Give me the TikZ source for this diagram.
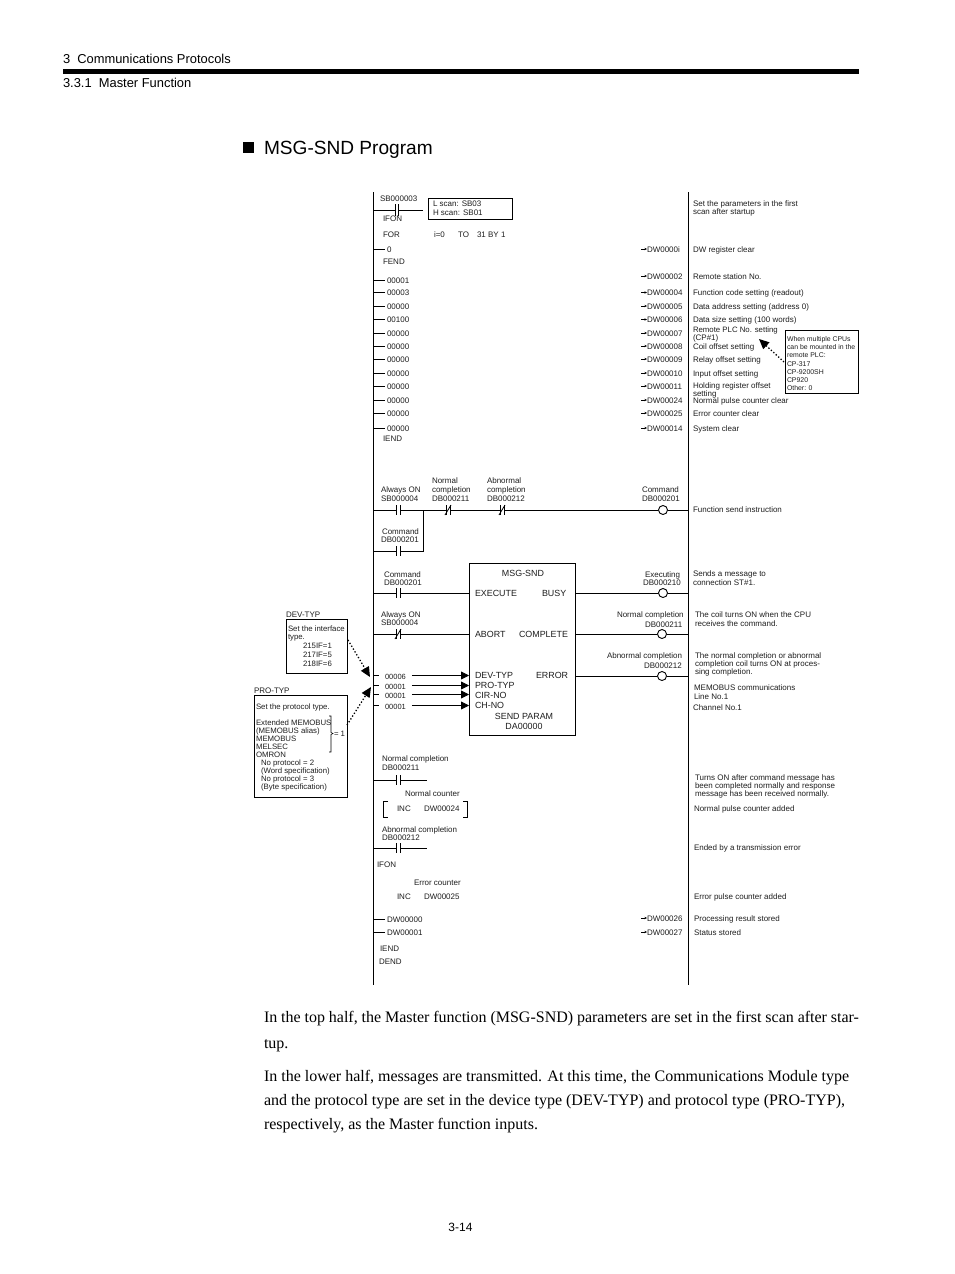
\documentclass[tikz,border=0pt]{standalone}
\usepackage{fontspec}
\setmainfont{Liberation Sans}
\newfontfamily\serifbody{Liberation Serif}
\usetikzlibrary{arrows.meta,calc}
\newcounter{nn}
\tikzset{
  base/.style={inner sep=0pt,outer sep=0pt,text=black!88},
  lab/.style={base,anchor=west,font=\fontsize{8}{8}\selectfont,text height=9.3pt,text depth=1.2pt},
  labc/.style={lab,anchor=center},
  num/.style={lab,font=\fontsize{7.5}{8}\selectfont},
  boxt/.style={lab,font=\fontsize{8.9}{9}\selectfont},
  boxc/.style={boxt,anchor=center},
  note/.style={lab,font=\fontsize{6.9}{8}\selectfont},
  pro/.style={lab,font=\fontsize{7.8}{8}\selectfont},
  head/.style={base,anchor=west,text=black,font=\fontsize{12.9}{13}\selectfont},
  body/.style={base,anchor=base west,text=black,font=\serifbody\fontsize{16}{16}\selectfont},
  rail/.style={line width=.9pt,black},
  wire/.style={line width=.8pt,black},
  ct/.style={rectangle,inner sep=0pt,outer sep=0pt,minimum width=4pt,minimum height=10pt},
  coil/.style={circle,draw,line width=.9pt,fill=white,inner sep=0pt,minimum size=9pt},
  frame/.style={line width=.8pt,black},
  pin/.style={wire,-{Triangle[length=8pt,width=8pt]}},
  dots/.style={line width=1.3pt,dotted,-{Triangle[length=10pt,width=9pt]}},
  tiny/.style={line width=.4pt,-{Stealth[length=2.6pt,width=2.4pt]}}
}
\newcommand\Lb[4][lab]{\stepcounter{nn}\node[#1] (n\thenn) at (#2,#3) {#4};}
\newcommand\St[3]{\Lb{387}{#2}{#3}\draw[wire] ([yshift=-1pt]railT |- n\thenn.west) -- +(11.5,0);}
\newcommand\DW[2]{\Lb{647}{#1}{#2}\draw[tiny] ([xshift=-6pt,yshift=-1pt]n\thenn.west) -- ([yshift=-1pt]n\thenn.west);}
\newcommand\Bars[1]{\draw[line width=.9pt] (#1.north west)--(#1.south west) (#1.north east)--(#1.south east);}
\newcommand\NO[3]{\node[ct] (#1) at (#2,#3) {};\Bars{#1}}
\newcommand\NC[3]{\node[ct] (#1) at (#2,#3) {};\Bars{#1}\draw[line width=.8pt] ([xshift=-1pt]#1.south west)--([xshift=1pt]#1.north east);}
\begin{document}
\begin{tikzpicture}[x=1pt,y=-1pt]
\useasboundingbox (0,0) rectangle (954,1274);
\fill[white] (0,0) rectangle (954,1274);
% header
\Lb[head]{63}{59}{3\ \ Communications Protocols}
\Lb[head]{63}{83}{3.3.1\ \ Master Function}
\fill[black] (63,69) rectangle (859,74);
\fill[black] (243,142) rectangle (254,153);
\Lb[head,font=\fontsize{19.1}{20}\selectfont]{264}{150}{MSG-SND Program}
% rails
\coordinate (railT) at (373,192);
\coordinate (railB) at (373,985);
\coordinate (raitT) at (688,192);
\coordinate (raitB) at (688,985);
\draw[rail] (railT)--(railB) (raitT)--(raitB);
% IFON rung
\Lb{380}{197}{SB000003}
\node[ct,minimum width=3pt,minimum height=12pt] (ifc) at (397,210) {};
\draw[line width=1.5pt] (ifc.north west)--(ifc.south west) (ifc.north east)--(ifc.south east);
\coordinate (ifend) at (423,210);
\draw[wire] (railT |- ifc.west)--(ifc.west) (ifc.east)--(ifend);
\draw[frame] (428,198) rectangle (512,219);
\Lb{433}{202}{L scan: SB03}
\Lb{433}{211.5}{H scan: SB01}
\Lb{383}{217}{IFON}
\Lb{383}{233}{FOR}
\Lb{434}{233}{i=0}
\Lb{458}{233}{TO}
\Lb{477}{233}{31 BY 1}
\St{0}{248}{0}
\Lb{383}{260}{FEND}
\foreach \y/\v in {279/00001,291.5/00003,305/00000,318.5/00100,332/00000,345/00000,358/00000,372/00000,385/00000,399/00000,412/00000,427/00000}{\St{0}{\y}{\v}}
\Lb{383}{437}{IEND}
\foreach \y/\v in {248/DW0000i,275/DW00002,291.5/DW00004,305/DW00005,318.5/DW00006,332/DW00007,345/DW00008,358/DW00009,372/DW00010,385/DW00011,399/DW00024,412/DW00025,427/DW00014,917/DW00026,931/DW00027}{\DW{\y}{\v}}
% right descriptions, top
\Lb{693}{202}{Set the parameters in the first}
\Lb{693}{210}{scan after startup}
\Lb{693}{248}{DW register clear}
\Lb{693}{275}{Remote station No.}
\Lb{693}{291.5}{Function code setting (readout)}
\Lb{693}{305}{Data address setting (address 0)}
\Lb{693}{318.5}{Data size setting (100 words)}
\Lb[pro]{693}{328}{Remote PLC No. setting}
\Lb{693}{336.5}{(CP\#1)}
\Lb{693}{345.5}{Coil offset setting}
\Lb{693}{358}{Relay offset setting}
\Lb{693}{372}{Input offset setting}
\Lb{693}{384}{Holding register offset}
\Lb{693}{392.5}{setting}
\Lb{693}{399.5}{Normal pulse counter clear}
\Lb{693}{412}{Error counter clear}
\Lb{693}{427}{System clear}
% note box
\draw[frame] (785,330) rectangle (858,393);
\foreach \y/\v in {337/When multiple CPUs,345/can be mounted in the,353/remote PLC:,362/CP-317,370/CP-9200SH,378/CP920,386/Other: 0}{\Lb[note]{787}{\y}{\v}}
\coordinate (notea) at (784,362);
\coordinate (noteb) at (759,339);
\draw[dots] (notea)--(noteb);
% rung 1
\Lb{381}{488}{Always ON}
\Lb{381}{497}{SB000004}
\Lb{432}{479}{Normal}
\Lb{432}{488}{completion}
\Lb{432}{497}{DB000211}
\Lb{487}{479}{Abnormal}
\Lb{487}{488}{completion}
\Lb{487}{497}{DB000212}
\Lb{642}{488}{Command}
\Lb{642}{497}{DB000201}
\Lb{693}{508}{Function send instruction}
\NO{c1}{398}{510}
\NC{c2}{448}{510}
\NC{c3}{502}{510}
\node[coil] (k1) at (663,510) {};
\draw[wire] (railT |- c1.west)--(c1.west) (c1.east)--(c2.west) (c2.east)--(c3.west) (c3.east)--(k1.west) (k1.east)--(raitT |- k1.east);
\Lb{382}{530}{Command}
\Lb{381}{538}{DB000201}
\NO{c4}{398}{551}
\coordinate (jn) at (423,510);
\draw[wire] (railT |- c4.west)--(c4.west) (c4.east)-|(jn);
% MSG-SND block
\node[draw,line width=.8pt,inner sep=0pt,minimum width=106pt,minimum height=172pt,anchor=north west] (blk) at (469,563) {};
\Lb[boxc]{523}{572}{MSG-SND}
\Lb[boxt]{475}{592}{EXECUTE}
\Lb[boxt]{542}{592}{BUSY}
\Lb[boxt]{475}{633}{ABORT}
\Lb[boxt]{519}{633}{COMPLETE}
\Lb[boxt]{475}{674}{DEV-TYP}
\Lb[boxt]{536}{674}{ERROR}
\Lb[boxt]{475}{684}{PRO-TYP}
\Lb[boxt]{475}{694}{CIR-NO}
\Lb[boxt]{475}{704}{CH-NO}
\Lb[boxc]{524}{715}{SEND PARAM}
\Lb[boxc]{524}{725}{DA00000}
\Lb{384}{573}{Command}
\Lb{384}{581}{DB000201}
\NO{c5}{398}{593}
\draw[wire] (railT |- c5.west)--(c5.west) (c5.east)--(blk.west |- c5.east);
\Lb{381}{613}{Always ON}
\Lb{381}{621}{SB000004}
\NC{c6}{398}{634}
\draw[wire] (railT |- c6.west)--(c6.west) (c6.east)--(blk.west |- c6.east);
\Lb{645}{573}{Executing}
\Lb{643}{581}{DB000210}
\node[coil] (k2) at (663,593) {};
\Lb{617}{613}{Normal completion}
\Lb{645}{623}{DB000211}
\node[coil] (k3) at (662,634) {};
\Lb{607}{654}{Abnormal completion}
\Lb{644}{664}{DB000212}
\node[coil] (k4) at (662,676) {};
\foreach \k in {k2,k3,k4}{\draw[wire] (blk.east |- \k.west)--(\k.west) (\k.east)--(raitT |- \k.east);}
% input pins
\foreach \y/\v in {675/00006,685/00001,694/00001,705/00001}{
  \Lb[num]{385}{\y}{\v}
  \draw[wire] ([yshift=-.5pt]railT |- n\thenn.west)--+(6,0);
  \coordinate (pa) at ($(n\thenn.east)+(6,.5)$);
  \draw[pin] (pa)--(blk.west |- pa);
}
% right descriptions, block
\Lb{693}{572.5}{Sends a message to}
\Lb{693}{581}{connection ST\#1.}
\Lb{695}{613}{The coil turns ON when the CPU}
\Lb{695}{622}{receives the command.}
\Lb{695}{654}{The normal completion or abnormal}
\Lb{695}{662.5}{completion coil turns ON at proces-}
\Lb{695}{670.5}{sing completion.}
\Lb{694}{686}{MEMOBUS communications}
\Lb{694}{695}{Line No.1}
\Lb{693}{706}{Channel No.1}
% DEV-TYP
\Lb{286}{613}{DEV-TYP}
\draw[frame] (286,619) rectangle (347,673);
\Lb[pro]{288}{627}{Set the interface}
\Lb[pro]{288}{635}{type.}
\Lb[pro]{303}{644}{215IF=1}
\Lb[pro]{303}{653}{217IF=5}
\Lb[pro]{303}{662}{218IF=6}
\coordinate (deva) at (348,640);
\coordinate (devb) at (370,677);
\draw[dots] (deva)--(devb);
% PRO-TYP
\Lb{254}{689}{PRO-TYP}
\draw[frame] (254,695) rectangle (347,797);
\foreach \y/\v in {705/Set the protocol type.,721/Extended MEMOBUS,729/(MEMOBUS alias),737/MEMOBUS,745/MELSEC,753/OMRON}{\Lb[pro]{256}{\y}{\v}}
\foreach \y/\v in {761/No protocol = 2,769/(Word specification),777/No protocol = 3,785/(Byte specification)}{\Lb[pro]{261}{\y}{\v}}
\draw[line width=.6pt] (329,716)--(331,716)--(331,732.5)--(333,733.5)--(331,734.5)--(331,752)--(329,752);
\Lb[pro]{334}{732}{= 1}
\coordinate (proa) at (347,725);
\coordinate (prob) at (371,687);
\draw[dots] (proa)--(prob);
% lower rungs
\Lb{382}{757}{Normal completion}
\Lb{382}{766}{DB000211}
\NO{c7}{398}{780}
\coordinate (e7) at (427,780);
\draw[wire] (railT |- c7.west)--(c7.west) (c7.east)--(e7);
\Lb{405}{792}{Normal counter}
\draw[frame] (388,801)--(383.5,801)--(383.5,817)--(388,817);
\draw[frame] (463,801)--(467.5,801)--(467.5,817)--(463,817);
\Lb{397}{807}{INC}
\Lb{424}{807}{DW00024}
\Lb{382}{828}{Abnormal completion}
\Lb{382}{836}{DB000212}
\NO{c8}{398}{848}
\coordinate (e8) at (427,848);
\draw[wire] (railT |- c8.west)--(c8.west) (c8.east)--(e8);
\Lb{377}{863}{IFON}
\Lb{414}{881}{Error counter}
\Lb{397}{895}{INC}
\Lb{424}{895}{DW00025}
\St{0}{918}{DW00000}
\St{0}{931}{DW00001}
\Lb{380}{947}{IEND}
\Lb{379}{960}{DEND}
% right descriptions, lower
\Lb{695}{776}{Turns ON after command message has}
\Lb{695}{784}{been completed normally and response}
\Lb{695}{792}{message has been received normally.}
\Lb{694}{807}{Normal pulse counter added}
\Lb{694}{846}{Ended by a transmission error}
\Lb{694}{895}{Error pulse counter added}
\Lb{694}{917}{Processing result stored}
\Lb{694}{931}{Status stored}
% body
\Lb[body]{264}{1022}{\makebox[595pt][s]{In the top half, the Master function (MSG-SND) parameters are set in the first scan after star-}}
\Lb[body]{264}{1048}{tup.}
\Lb[body]{264}{1081}{In the lower half, messages are transmitted. At this time, the Communications Module type}
\Lb[body]{264}{1105}{and the protocol type are set in the device type (DEV-TYP) and protocol type (PRO-TYP),}
\Lb[body]{264}{1129}{respectively, as the Master function inputs.}
\Lb[head,font=\fontsize{12}{12}\selectfont,anchor=center]{460.5}{1227}{3-14}
\end{tikzpicture}
\end{document}
